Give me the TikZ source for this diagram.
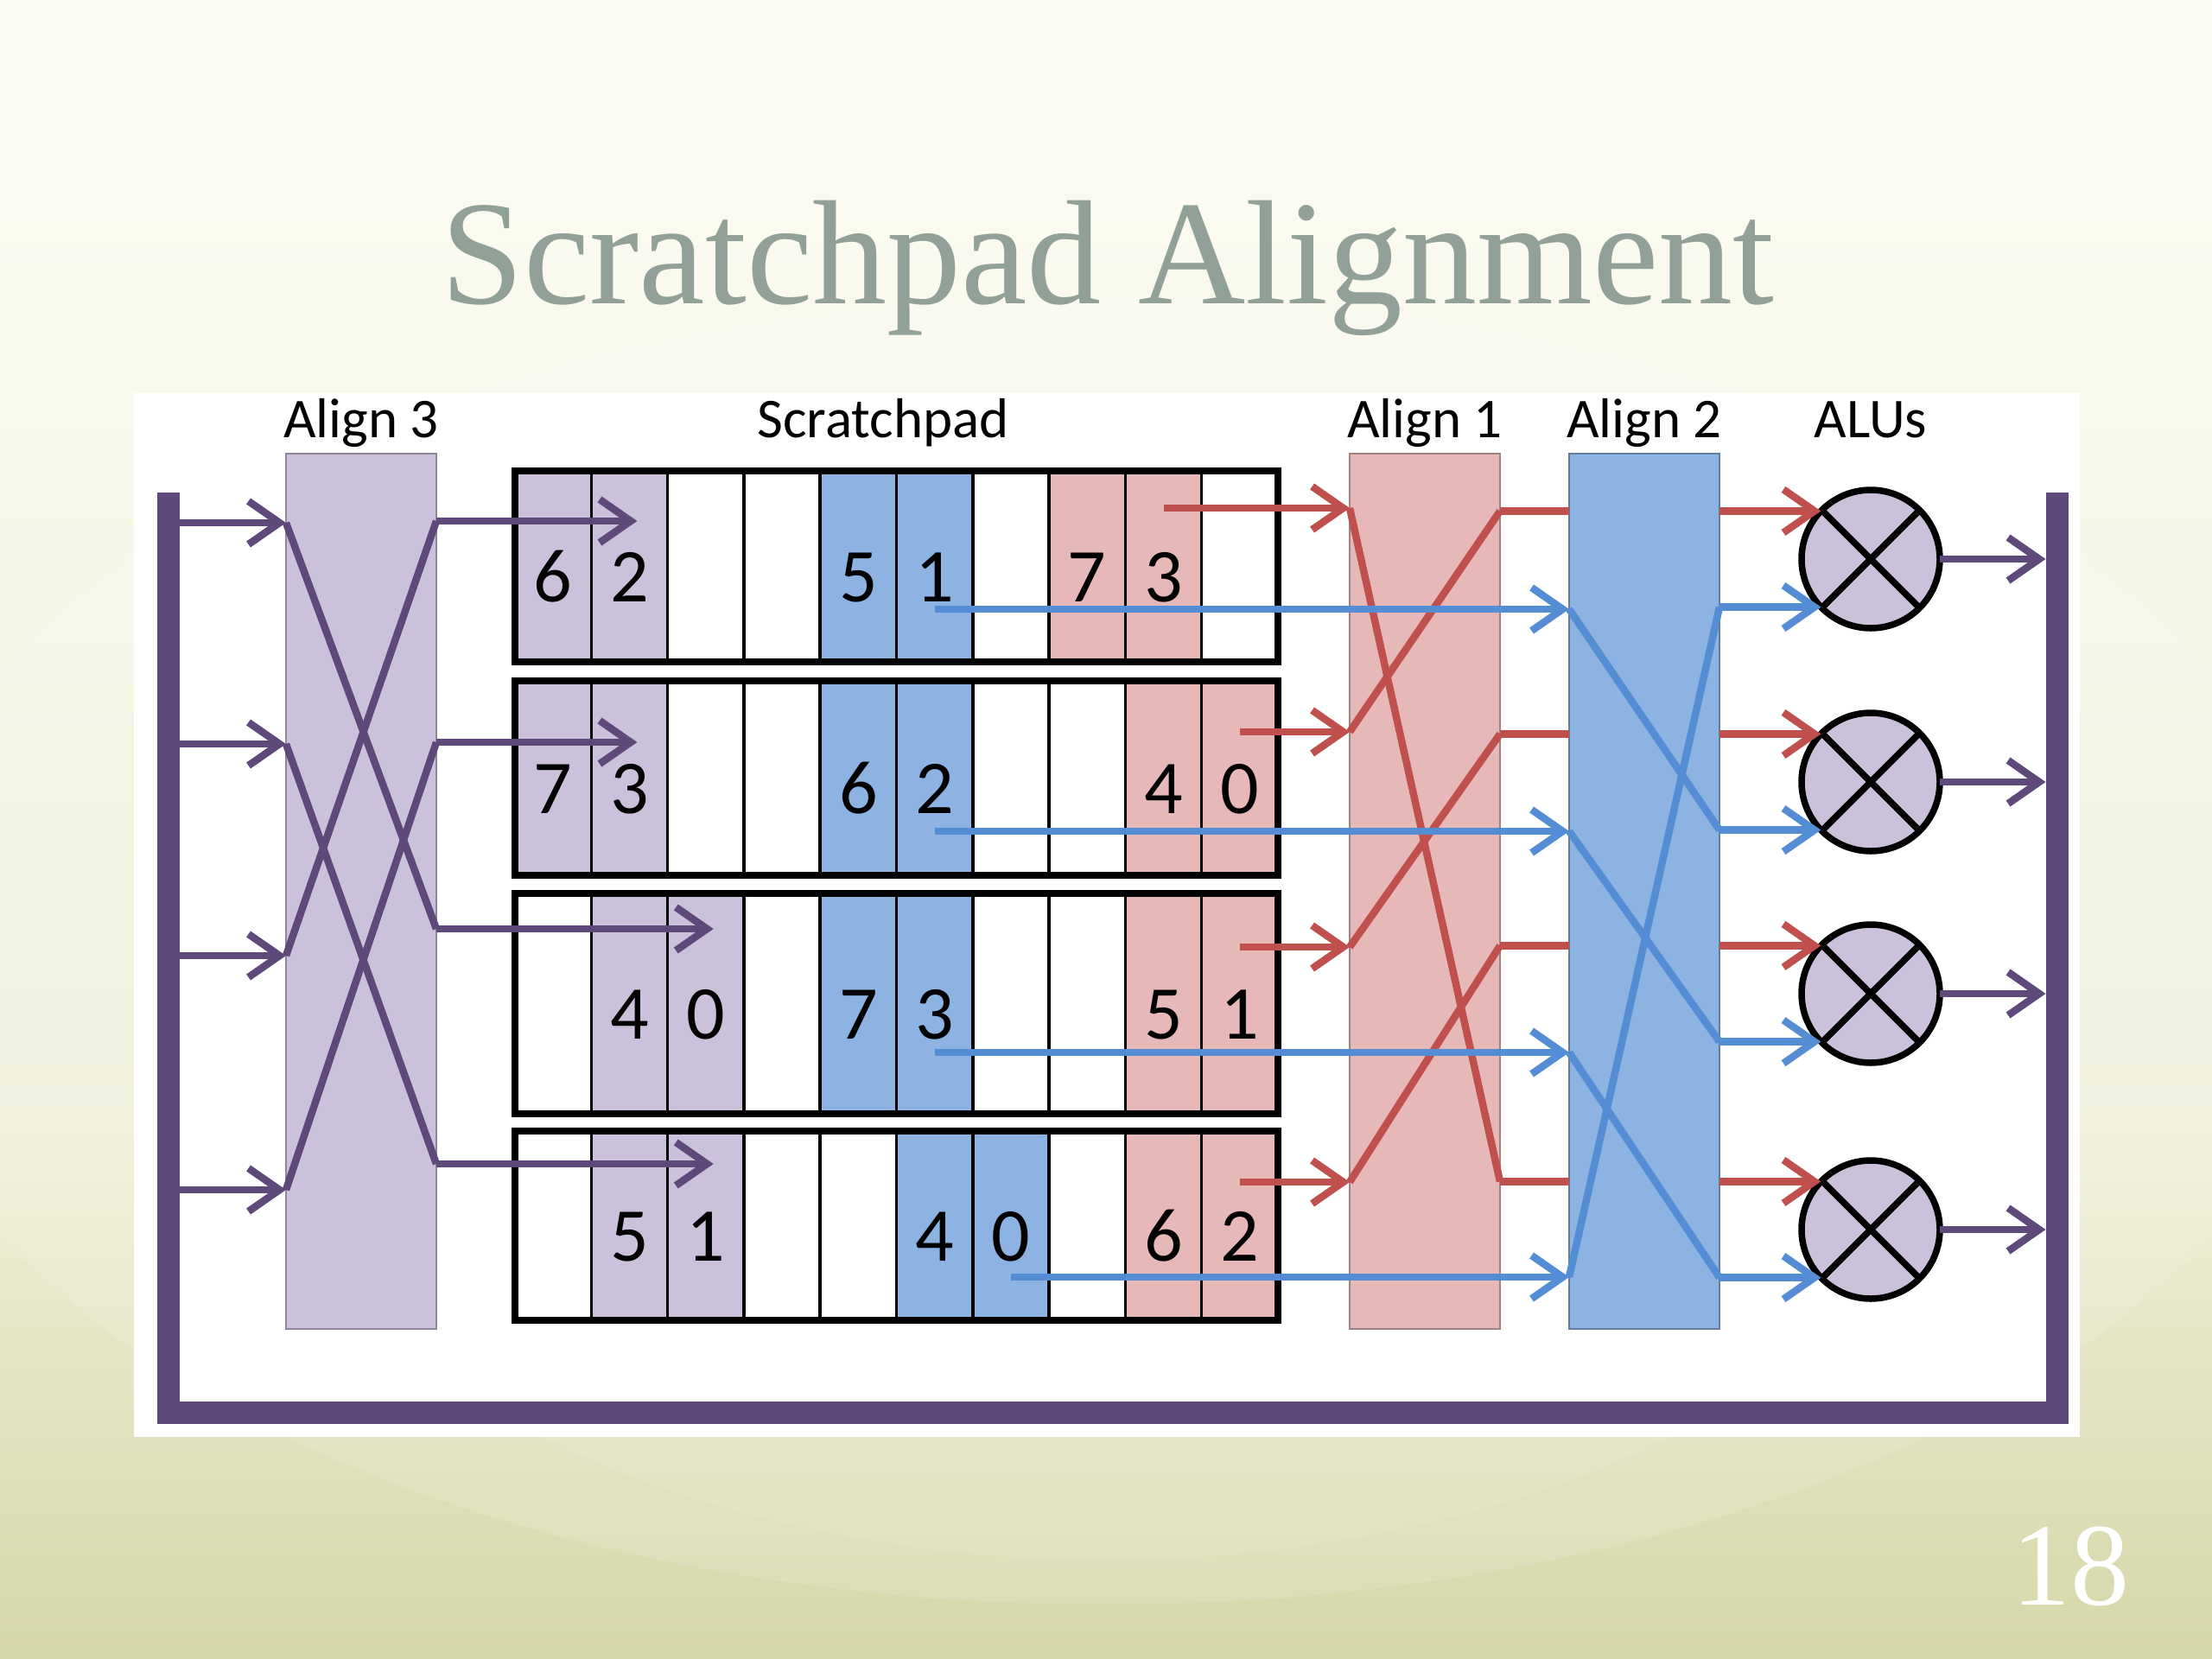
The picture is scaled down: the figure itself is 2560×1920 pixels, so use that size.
\documentclass[tikz,border=0pt]{standalone}
\usepackage{fontspec}
\setmainfont{Carlito}
\newfontfamily\slidefont{Liberation Serif}
\usetikzlibrary{arrows.meta, positioning}

\definecolor{padpurple}{RGB}{204,193,218}
\definecolor{padblue}{RGB}{141,179,226}
\definecolor{padred}{RGB}{230,185,184}
\definecolor{linepurple}{RGB}{95,73,122}
\definecolor{lineblue}{RGB}{84,141,212}
\definecolor{linered}{RGB}{192,80,77}
\definecolor{titlegray}{RGB}{146,161,152}
\definecolor{bgtop}{RGB}{252,252,248}
\definecolor{bgpale}{RGB}{250,250,240}
\definecolor{bgcream}{RGB}{240,240,218}
\definecolor{bgmid}{RGB}{212,213,165}
\definecolor{bglow}{RGB}{193,195,136}
\definecolor{bgolive}{RGB}{181,184,119}

\pgfdeclareverticalshading{slidebg}{100bp}{color(0bp)=(bgolive); color(15bp)=(bglow);
  color(24bp)=(bgmid); color(41bp)=(bgcream); color(69bp)=(bgpale); color(100bp)=(bgtop)}

\tikzset{
  alignbox/.style={rectangle, draw=#1!70!black, fill=#1, line width=2.5pt,
    minimum width=174pt, minimum height=1013pt, outer sep=0pt},
  padcell/.style={rectangle, draw=black, line width=3.5pt, outer sep=0pt,
    inner sep=0pt, minimum width=88.3pt, anchor=north west,
    font=\fontsize{88}{94}\selectfont, text height=82pt, text depth=0pt},
  alu/.style={circle, draw=black, fill=padpurple, line width=7.5pt,
    minimum size=160pt, inner sep=0pt, outer sep=0pt},
  lbl/.style={font=\fontsize{65}{70}\selectfont, anchor=base, inner sep=0pt},
  wire/.style={line width=8.5pt},
  tip/.style={-{Straight Barb[length=36pt,width=50pt]}},
  pwire/.style={wire, draw=linepurple},
  rwire/.style={wire, draw=linered},
  bwire/.style={wire, draw=lineblue},
  parrow/.style={pwire, tip},
  rarrow/.style={rwire, tip},
  barrow/.style={bwire, tip},
}

% one scratchpad row: name, top, bottom, cells (fill/digit)
\newcommand{\padrow}[4]{%
  \foreach \c/\t [count=\i from 0] in {#4}
    \node[padcell, fill=\c, minimum height={#3-#2}] (#1-\i) at ({596+88.3*\i},#2) {\t};
  \draw[line width=8pt] (#1-0.north west) rectangle (#1-9.south east);
}

\begin{document}
\begin{tikzpicture}[x=1pt, y=-1pt]
  \useasboundingbox (0,0) rectangle (2560,1920);
  \shade[shading=slidebg] (0,0) rectangle (2560,1920);
  \fill[white, opacity=0.12] (1280,1100) ellipse [x radius=1420, y radius=757];
  \fill[white, opacity=0.08] (1280,1150) ellipse [x radius=1050, y radius=655];

  \node[font=\slidefont\fontsize{172}{180}\selectfont, text=titlegray, anchor=base]
    (title) at (1282,351) {Scratchpad Alignment};
  \node[font=\slidefont\fontsize{136}{140}\selectfont, text=white, anchor=base]
    (pagenum) at (2396,1857) {18};

  \fill[white] (155,455) rectangle (2407,1663);
  \draw[line width=26pt, linepurple] (195,570) -- (195,1635) -- (2380.5,1635) -- (2380.5,570);
  \coordinate (inbar) at (208,570);
  \coordinate (outbar) at (2367.5,570);

  % alignment networks
  \node[alignbox=padpurple, anchor=north west] (align3) at (331,525) {};
  \node[alignbox=padred, anchor=north west] (align1) at (1562,525) {};
  \node[alignbox=padblue, right=80pt of align1] (align2) {};

  % scratchpad banks
  \padrow{row1}{545}{766}{padpurple/6, padpurple/2, white/{}, white/{}, padblue/5,
    padblue/1, white/{}, padred/7, padred/3, white/{}}
  \padrow{row2}{788}{1013}{padpurple/7, padpurple/3, white/{}, white/{}, padblue/6,
    padblue/2, white/{}, white/{}, padred/4, padred/0}
  \padrow{row3}{1034}{1289}{white/{}, padpurple/4, padpurple/0, white/{}, padblue/7,
    padblue/3, white/{}, white/{}, padred/5, padred/1}
  \padrow{row4}{1309}{1528}{white/{}, padpurple/5, padpurple/1, white/{}, white/{},
    padblue/4, padblue/0, white/{}, padred/6, padred/2}

  \foreach \k/\y in {1/647, 2/905, 3/1150, 4/1423}
    \node[alu] (alu\k) at (2165,\y) {};
  \foreach \k in {1,...,4}
    \draw[line width=7.5pt] (alu\k.45) -- (alu\k.225) (alu\k.135) -- (alu\k.315);

  \coordinate (lblrow) at (0,506);
  \node[lbl] (lbl3) at (align3.north |- lblrow) {Align 3};
  \node[lbl] (lblpad) at (1022,506) {Scratchpad};
  \node[lbl] (lbl1) at (align1.north |- lblrow) {Align 1};
  \node[lbl] (lbl2) at (align2.north |- lblrow) {Align 2};
  \node[lbl] (lblalu) at (alu1.north |- lblrow) {ALUs};

  % wire levels
  \foreach \k/\pin/\pout/\rin/\bin in {1/605/603/588/705, 2/861/859/847/962,
      3/1106/1075/1096/1218, 4/1377/1347/1368/1478} {
    \coordinate (pin\k) at (0,\pin);
    \coordinate (pout\k) at (0,\pout);
    \coordinate (rin\k) at (0,\rin);
    \coordinate (bin\k) at (0,\bin);
  }

  % purple: memory -> align 3 -> scratchpad
  \foreach \k in {1,...,4}
    \draw[parrow] (inbar |- pin\k) -- (align3.west |- pin\k);
  \foreach \a/\b in {1/3, 2/4, 3/1, 4/2}
    \draw[pwire] (align3.west |- pin\a) -- (align3.east |- pout\b);
  \foreach \k/\c in {1/1, 2/1, 3/2, 4/2}
    \draw[parrow] (align3.east |- pout\k) -- ([xshift=9pt]row\k-\c.center |- pout\k);

  % red: scratchpad -> align 1 -> ALUs
  \foreach \k/\c in {1/8, 2/9, 3/9, 4/9}
    \draw[rarrow] (row\k-\c.center |- rin\k) -- (align1.west |- rin\k);
  \foreach \a/\b in {2/1, 3/2, 4/3, 1/4}
    \draw[rwire] (align1.west |- rin\a) -- (align1.east |- alu\b.136);
  \foreach \k in {1,...,4} {
    \draw[rwire] (align1.east |- alu\k.136) -- (align2.west |- alu\k.136);
    \draw[rarrow] (align2.east |- alu\k.136) -- (alu\k.136);
  }

  % blue: scratchpad -> align 2 -> ALUs
  \foreach \k/\c in {1/5, 2/5, 3/5, 4/6}
    \draw[barrow] (row\k-\c.center |- bin\k) -- (align2.west |- bin\k);
  \foreach \a/\b in {1/2, 2/3, 3/4, 4/1}
    \draw[bwire] (align2.west |- bin\a) -- (align2.east |- alu\b.224);
  \foreach \k in {1,...,4}
    \draw[barrow] (align2.east |- alu\k.224) -- (alu\k.224);

  % results back to memory
  \foreach \k in {1,...,4}
    \draw[parrow] (alu\k.east) -- (outbar |- alu\k.east);
\end{tikzpicture}
\end{document}
